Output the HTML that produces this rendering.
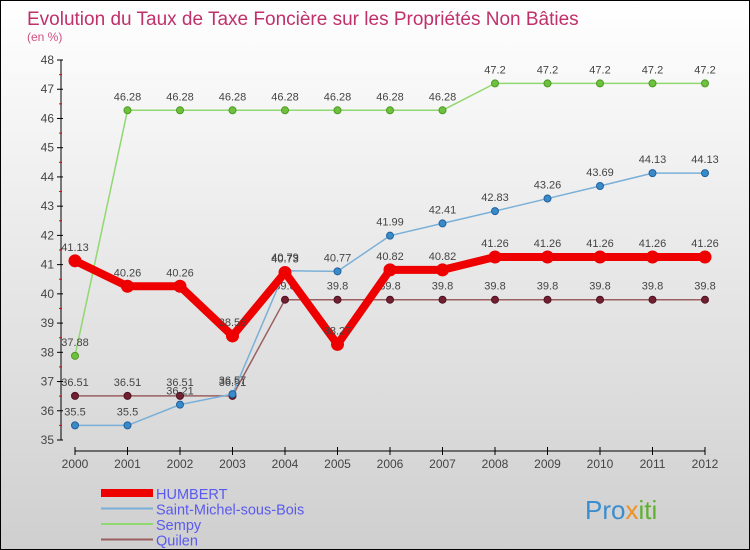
<!DOCTYPE html>
<html><head><meta charset="utf-8"><style>
body{margin:0}
#c{width:748px;height:548px;border:1px solid #000;background:linear-gradient(#ffffff,#cfcfcf);position:relative;font-family:"Liberation Sans",sans-serif;}
</style></head><body>
<div id="c">
<svg id="s" width="748" height="548" style="position:absolute;left:0;top:0;font-family:'Liberation Sans',sans-serif">
<text x="26" y="24" font-size="19" fill="#c0306a">Evolution du Taux de Taxe Foncière sur les Propriétés Non Bâties</text>
<text x="26" y="40" font-size="12" fill="#d05080">(en %)</text>
<g id="g"></g>
<text x="584" y="518" font-size="26" fill="#3a8ed0">Pro<tspan fill="#f09020">x</tspan><tspan fill="#60b030">iti</tspan></text>
</svg>
</div>
<script>
const years=[2000,2001,2002,2003,2004,2005,2006,2007,2008,2009,2010,2011,2012];
const yTicks=[35,36,37,38,39,40,41,42,43,44,45,46,47,48];
const humbert=[41.13,40.26,40.26,38.56,40.73,38.27,40.82,40.82,41.26,41.26,41.26,41.26,41.26];
const saintMichel=[35.5,35.5,36.21,36.57,40.79,40.77,41.99,42.41,42.83,43.26,43.69,44.13,44.13];
const sempy=[37.88,46.28,46.28,46.28,46.28,46.28,46.28,46.28,47.2,47.2,47.2,47.2,47.2];
const quilen=[36.51,36.51,36.51,36.51,39.8,39.8,39.8,39.8,39.8,39.8,39.8,39.8,39.8];
const seriesNames=["HUMBERT","Saint-Michel-sous-Bois","Sempy","Quilen"];
const NS="http://www.w3.org/2000/svg";
const g=document.getElementById('g');
function xs(i){return 74+i*52.5;}
function ys(v){return 439-(v-35)*29.23;}
function mk(t,a,p){const e=document.createElementNS(NS,t);for(const k in a)e.setAttribute(k,a[k]);(p||g).appendChild(e);return e;}
let ax=mk('line',{x1:60,y1:ys(48),x2:60,y2:ys(35),stroke:'#000'});


let bx=mk('line',{x1:xs(0),y1:450,x2:xs(12),y2:450,stroke:'#000'});


yTicks.forEach(v=>{
 mk('line',{x1:56,y1:ys(v),x2:62,y2:ys(v),stroke:'#000'});
 if(v<48)mk('line',{x1:58,y1:ys(v+0.5),x2:61,y2:ys(v+0.5),stroke:'#e00'});
 const t=mk('text',{x:53,y:ys(v)+4,'font-size':12,fill:'#444','text-anchor':'end'});
 t.textContent=v;
 
 
});
years.forEach((y,i)=>{
 mk('line',{x1:xs(i),y1:446,x2:xs(i),y2:454,stroke:'#000'});
 const t=mk('text',{x:xs(i),y:467,'font-size':12,fill:'#444','text-anchor':'middle'});
 t.textContent=y;
 
 
});
function draw(data,color,width,dot,dotStroke,r,name){
 const pl=mk('polyline',{points:data.map((v,i)=>xs(i)+','+ys(v)).join(' '),fill:'none',stroke:color,'stroke-width':width,'stroke-linejoin':'round'});
 
 
 data.forEach((v,i)=>{
  const c=mk('circle',{cx:xs(i),cy:ys(v),r:r,fill:dot,stroke:dotStroke});
  
  
  const t=mk('text',{x:xs(i),y:ys(v)-10,'font-size':11,fill:'#444','text-anchor':'middle'});
  t.textContent=v;
  
  
 });
}
draw(sempy,'#90d870',1.5,'#70c040','#4a9a20',3.5,'sempy');
draw(quilen,'#9a6060',1.5,'#702030','#501020',3.5,'quilen');
draw(saintMichel,'#7ab0d8',1.5,'#3a8ac8','#2060a0',3.5,'saint-michel');
draw(humbert,'#ee0000',8,'#ee0000','#ee0000',6,'humbert');
const leg=[['#ee0000',8],['#7ab0d8',2],['#90d870',2],['#9a6060',2]];
seriesNames.forEach((n,i)=>{
 const y=492+i*15.5;
 const l=mk('line',{x1:100,y1:y,x2:152,y2:y,stroke:leg[i][0],'stroke-width':leg[i][1]});
 
 
 const t=mk('text',{x:155,y:y+6,'font-size':14.5,fill:'#5a5af0'});
 t.textContent=n;
 
 
});
</script>
</body></html>
